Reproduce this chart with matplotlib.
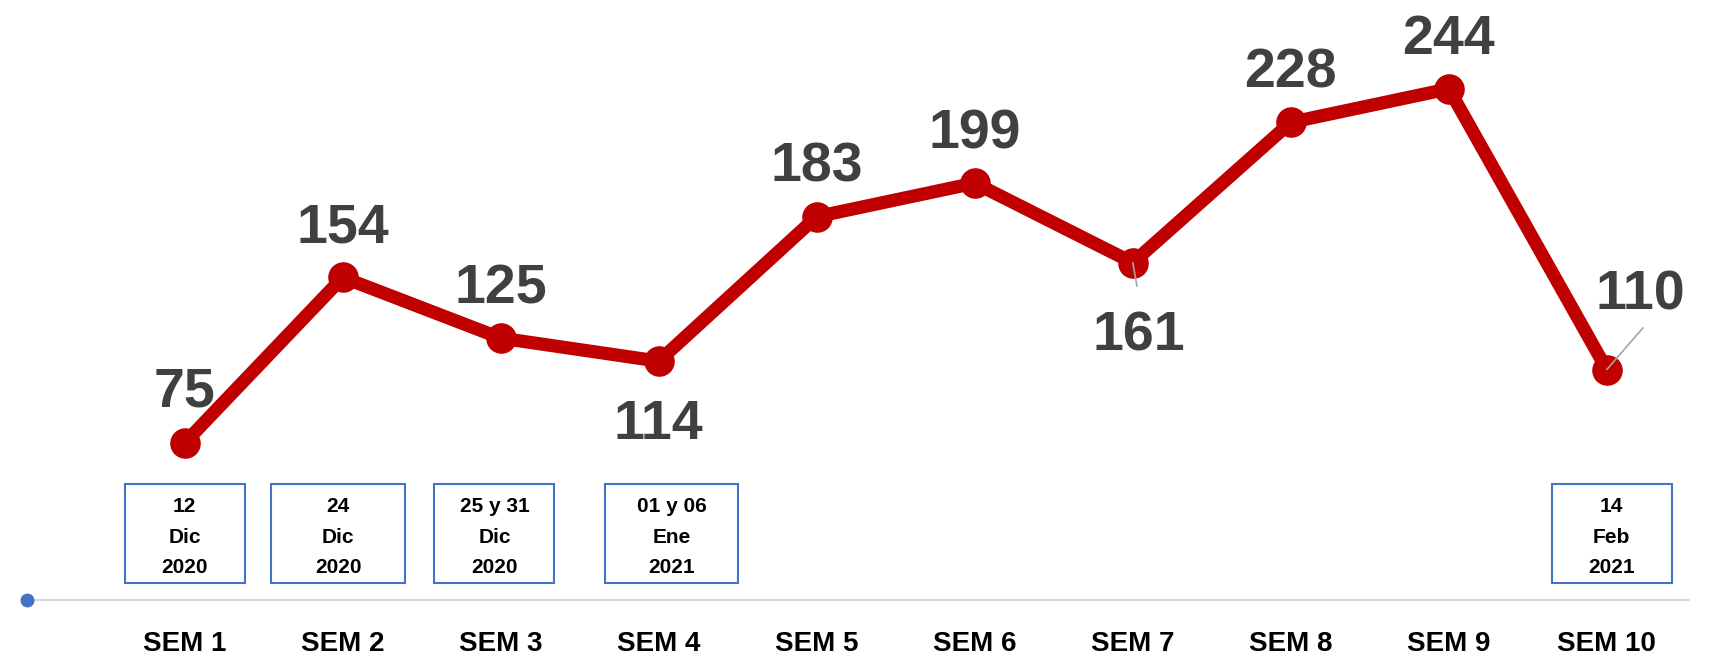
"""
Casos por semana - SEM 1 ~ SEM 10
- linea roja gruesa con marcadores
- etiquetas de valor grandes
- cajas con fechas debajo de algunas semanas
"""

import matplotlib
matplotlib.use('Agg')
import matplotlib.pyplot as plt
from matplotlib.patches import Rectangle

# [1] datos
semanas = ['SEM 1', 'SEM 2', 'SEM 3', 'SEM 4', 'SEM 5',
           'SEM 6', 'SEM 7', 'SEM 8', 'SEM 9', 'SEM 10']
casos = [75, 154, 125, 114, 183, 199, 161, 228, 244, 110]

# cajas de fecha : semana (1 ~ 10) y texto
fecha_semana = [1, 2, 3, 4, 10]
fecha_texto = ['12\nDic\n2020', '24\nDic\n2020', '25 y 31\nDic\n2020',
               '01 y 06\nEne\n2021', '14\nFeb\n2021']

# [2] estilo
plt.rcParams['font.family'] = ['Liberation Sans', 'DejaVu Sans']

ROJO = '#C00000'
AZUL = '#4472C4'
GRIS_TXT = '#404040'

# posicion de cada etiqueta (offset points, baseline) y lineas guia
label_offsets = [(0, 26), (0, 25), (0, 25), (0, -56), (0, 25),
                 (0, 25), (4, -63), (0, 25), (0, 25), (24, 43)]
leader_lines = {6: (3, -17), 9: (26, 30)}
# ancho y desplazamiento de las cajas (unidades de categoria)
box_widths = [0.76, 0.85, 0.76, 0.84, 0.76]
box_shift = [0.0, -0.03, -0.04, 0.08, 0.03]

# [3] figura
fig = plt.figure(figsize=(17.16, 6.56), dpi=100)
ax = fig.add_axes([22 / 1716, 56 / 656, 1667 / 1716, 586.6 / 656])

x = list(range(1, len(semanas) + 1))

ax.plot(x, casos, color=ROJO, linewidth=9.5, marker='o', markersize=21,
        solid_joinstyle='round', zorder=3)

# punto azul en el origen
ax.plot([0], [0], 'o', color=AZUL, markersize=9, clip_on=False, zorder=4)

# etiquetas de valor
for i, v in enumerate(casos):
    ax.annotate(str(v), xy=(x[i], v), xytext=label_offsets[i],
                textcoords='offset points', ha='center', va='baseline',
                fontsize=40, fontweight='bold', color=GRIS_TXT, zorder=6)

# lineas guia
for i, off in leader_lines.items():
    ax.annotate('', xy=(x[i], casos[i]), xytext=off, textcoords='offset points',
                arrowprops=dict(arrowstyle='-', color='#A6A6A6', lw=1.2,
                                shrinkA=0, shrinkB=0), zorder=5)

# cajas de fecha
for s, txt, w, d in zip(fecha_semana, fecha_texto, box_widths, box_shift):
    ax.add_patch(Rectangle((s + d - w / 2, 8), w, 47.5, facecolor='white',
                           edgecolor=AZUL, linewidth=1.5, zorder=2))
    ax.text(s + d, 30, txt, ha='center', va='center', fontsize=15,
            fontweight='bold', color='black', linespacing=1.75, zorder=3)

# ejes
ax.set_xlim(-0.03, 10.52)
ax.set_ylim(0, 280)
ax.set_xticks(x)
ax.set_xticklabels(semanas, fontsize=20, fontweight='bold')
ax.tick_params(axis='x', length=0, pad=22)
ax.set_yticks([])
for lado in ['top', 'right', 'left']:
    ax.spines[lado].set_visible(False)
ax.spines['bottom'].set_color('#D9D9D9')
ax.spines['bottom'].set_linewidth(1.5)

fig.savefig('out.png', dpi=100)
